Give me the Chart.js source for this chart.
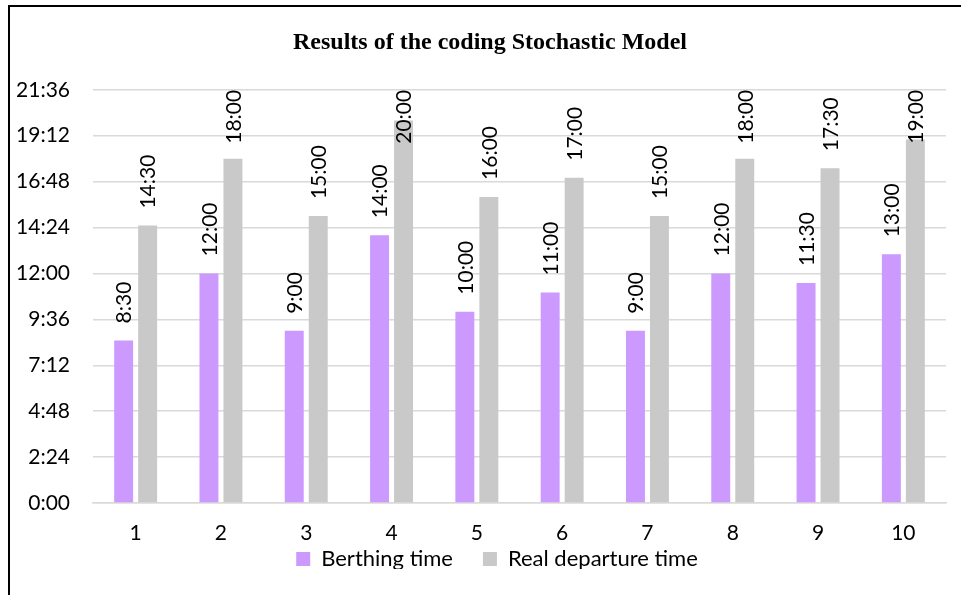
<!DOCTYPE html>
<html>
<head>
<meta charset="utf-8">
<script src="https://cdn.jsdelivr.net/npm/chart.js@4.4.0/dist/chart.umd.min.js"></script>
<style>
  html, body { margin: 0; padding: 0; background: #fff; }
  canvas { display: block; }
</style>
</head>
<body>
<canvas id="chart" width="961" height="595"></canvas>
<script>
// chart data (times as H:MM)
const categories = ['1', '2', '3', '4', '5', '6', '7', '8', '9', '10'];
const berthingTime = ['8:30', '12:00', '9:00', '14:00', '10:00', '11:00', '9:00', '12:00', '11:30', '13:00'];
const departureTime = ['14:30', '18:00', '15:00', '20:00', '16:00', '17:00', '15:00', '18:00', '17:30', '19:00'];
const yMax = '21:36';
const yStep = '2:24';

const toMin = s => { const [h, m] = s.split(':').map(Number); return h * 60 + m; };
const fmt = v => { const t = Math.round(v); return Math.floor(t / 60) + ':' + String(t % 60).padStart(2, '0'); };

const FONT = 'Lato';
const FS = 21;

// outer frame (only left and top edges show in the picture)
const frame = {
  id: 'frame',
  beforeDraw(chart) {
    const c = chart.ctx;
    c.save();
    c.fillStyle = '#fff';
    c.fillRect(0, 0, chart.width, chart.height);
    c.fillStyle = '#000';
    c.fillRect(8, 5, chart.width - 8, 2);
    c.fillRect(8, 5, 2, chart.height - 5);
    c.restore();
  }
};

// title and legend sit a bit off the default spots
const nudge = {
  id: 'nudge',
  afterLayout(chart) {
    const lg = chart.legend;
    lg.top -= 26; lg.bottom -= 26;
    lg.left += 19; lg.right += 19;
    const tb = chart.titleBlock;
    tb.left += 12; tb.right += 12;
  }
};

// rotated value labels above the bars
const barLabels = {
  id: 'barLabels',
  afterDatasetsDraw(chart) {
    const c = chart.ctx;
    const top = chart.chartArea.top;
    c.save();
    c.font = FS + 'px ' + FONT;
    c.fillStyle = '#000';
    c.textAlign = 'left';
    c.textBaseline = 'middle';
    chart.data.datasets.forEach((ds, i) => {
      chart.getDatasetMeta(i).data.forEach((bar, j) => {
        const txt = fmt(ds.data[j]);
        const w = c.measureText(txt).width;
        let y = bar.y - 17;
        if (y - w < top) y = top + w;
        c.save();
        c.translate(bar.x, y);
        c.rotate(-Math.PI / 2);
        c.fillText(txt, 0, 1);
        c.restore();
      });
    });
    c.restore();
  }
};

new Chart(document.getElementById('chart'), {
  type: 'bar',
  data: {
    labels: categories,
    datasets: [
      {
        label: 'Berthing time',
        data: berthingTime.map(toMin),
        backgroundColor: '#cc99ff',
        categoryPercentage: 0.5625,
        barPercentage: 0.79
      },
      {
        label: 'Real departure time',
        data: departureTime.map(toMin),
        backgroundColor: '#c9c9c9',
        categoryPercentage: 0.5625,
        barPercentage: 0.79
      }
    ]
  },
  options: {
    responsive: false,
    animation: false,
    devicePixelRatio: 1,
    layout: { padding: { left: 10, right: 15, top: 7, bottom: 0 } },
    scales: {
      x: {
        grid: { display: false, drawTicks: false },
        border: { color: '#d9d9d9', width: 1.5 },
        ticks: { padding: 20, color: '#000', font: { family: FONT, size: FS, lineHeight: 1 } },
        afterFit(s) { s.height = 41; }
      },
      y: {
        min: 0,
        max: toMin(yMax),
        ticks: {
          stepSize: toMin(yStep),
          callback: v => fmt(v),
          padding: 23,
          color: '#000',
          font: { family: FONT, size: FS }
        },
        grid: { color: '#d9d9d9', lineWidth: 1.5, drawTicks: false },
        border: { display: false },
        afterFit(s) { s.width = 83; }
      }
    },
    plugins: {
      title: {
        display: true,
        text: 'Results of the coding Stochastic Model',
        color: '#000',
        font: { family: 'Liberation Serif', size: 24, weight: 'bold' },
        padding: { top: 21, bottom: 33 }
      },
      legend: {
        position: 'bottom',
        maxHeight: 51,
        labels: {
          boxWidth: 14,
          boxHeight: 14,
          padding: 30,
          color: '#000',
          font: { family: FONT, size: 22 }
        }
      },
      tooltip: { enabled: false }
    }
  },
  plugins: [frame, nudge, barLabels]
});
</script>
</body>
</html>
